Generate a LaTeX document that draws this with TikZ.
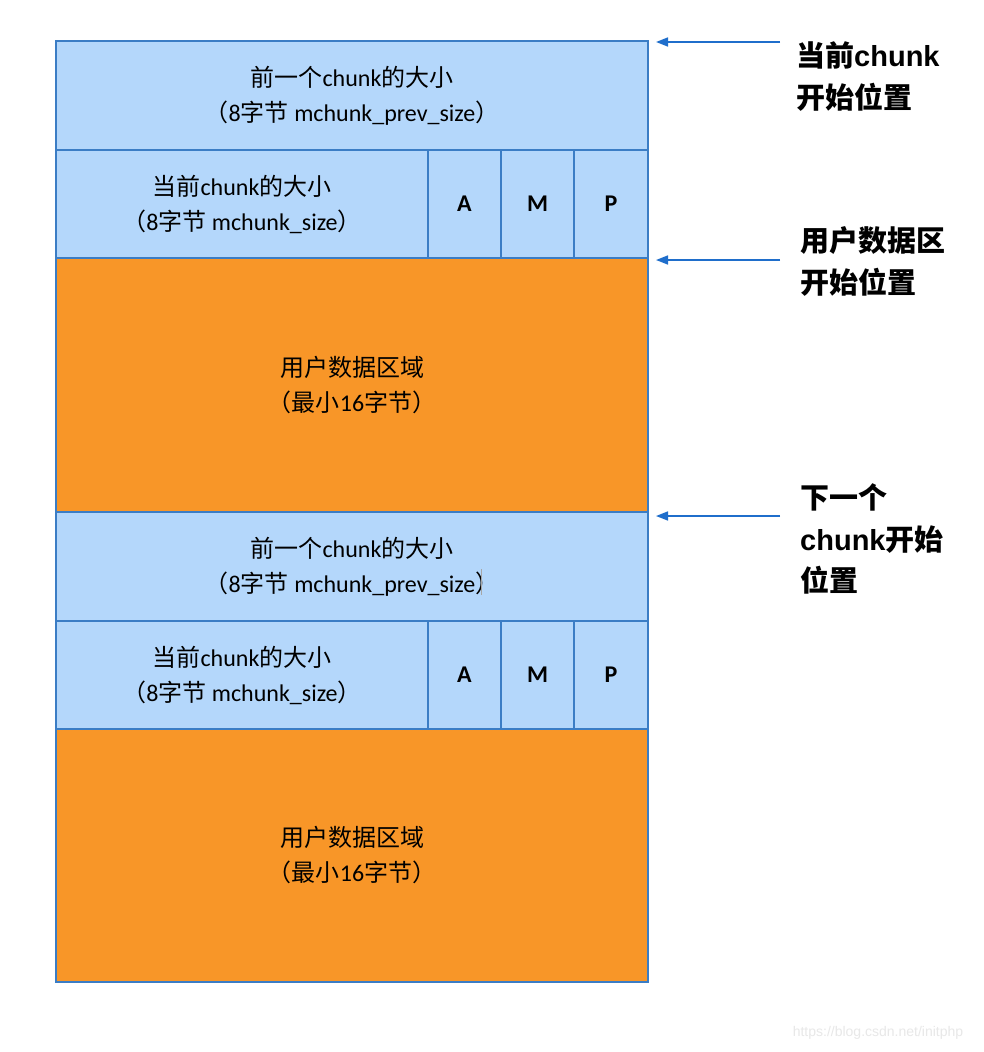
\documentclass[tikz,border=0pt]{standalone}
\usepackage{fontspec}
\setmainfont{Carlito}
\newfontfamily\cjk{Noto Sans CJK SC}
\newfontfamily\hb{Liberation Sans}
\usetikzlibrary{arrows.meta}
\definecolor{lblue}{HTML}{B4D7FB}
\definecolor{orng}{HTML}{F89628}
\definecolor{bord}{HTML}{3B7DC5}
\definecolor{arrc}{HTML}{1F6ECB}
\tikzset{
  cell/.style={draw=bord, line width=1.6pt, inner sep=0pt, outer sep=0pt, align=center,
    font=\fontsize{24}{35}\selectfont},
  hdr/.style={cell, fill=lblue},
  dat/.style={cell, fill=orng},
  flag/.style={hdr, font=\fontsize{24}{26}\selectfont\bfseries},
  ptr/.style={draw=arrc, line width=1.6pt, -{Triangle[length=12pt,width=9pt]}},
  lbl/.style={anchor=west, align=left, inner sep=0pt, font=\fontsize{29}{41.5}\selectfont\bfseries}
}
\newcommand{\cc}[1]{{\cjk #1}}
\newcommand{\cb}[1]{{\cjk\bfseries #1}}
\begin{document}
\begin{tikzpicture}[x=1pt,y=-1pt]
\useasboundingbox[fill=white] (0,0) rectangle (984,1052);
% first chunk
\node[hdr, minimum width=592pt, minimum height=109pt] (prev1) at (352,95.5)
  {\cc{前一个}chunk\cc{的大小}\\\cc{（}8\cc{字节} mchunk\_prev\_size\cc{）}};
\node[hdr, minimum width=372pt, minimum height=108pt] (size1) at (242,204)
  {\cc{当前}chunk\cc{的大小}\\\cc{（}8\cc{字节} mchunk\_size\cc{）}};
\node[flag, minimum width=73pt, minimum height=108pt] (A1) at (464.5,204) {A};
\node[flag, minimum width=73pt, minimum height=108pt] (M1) at (537.5,204) {M};
\node[flag, minimum width=74pt, minimum height=108pt] (P1) at (611,204) {P};
\node[dat, minimum width=592pt, minimum height=254pt] (data1) at (352,385)
  {\cc{用户数据区域}\\\cc{（最小}16\cc{字节）}};
% second chunk
\node[hdr, minimum width=592pt, minimum height=109pt] (prev2) at (352,566.5)
  {\cc{前一个}chunk\cc{的大小}\\\cc{（}8\cc{字节} mchunk\_prev\_size\cc{）}};
\node[hdr, minimum width=372pt, minimum height=108pt] (size2) at (242,675)
  {\cc{当前}chunk\cc{的大小}\\\cc{（}8\cc{字节} mchunk\_size\cc{）}};
\node[flag, minimum width=73pt, minimum height=108pt] (A2) at (464.5,675) {A};
\node[flag, minimum width=73pt, minimum height=108pt] (M2) at (537.5,675) {M};
\node[flag, minimum width=74pt, minimum height=108pt] (P2) at (611,675) {P};
\node[dat, minimum width=592pt, minimum height=253pt] (data2) at (352,855.5)
  {\cc{用户数据区域}\\\cc{（最小}16\cc{字节）}};
% text cursor artifact
\draw[gray!70, line width=1pt] (481,569) -- (481,595);
% pointers
\coordinate (s1) at (780,42);  \coordinate (t1) at (656,42);
\coordinate (s2) at (780,260); \coordinate (t2) at (656,260);
\coordinate (s3) at (780,516); \coordinate (t3) at (656,516);
\draw[ptr] (s1) -- (t1);
\draw[ptr] (s2) -- (t2);
\draw[ptr] (s3) -- (t3);
\node[lbl] (l1) at (796,76.5) {\cb{当前}{\hb chunk}\\\cb{开始位置}};
\node[lbl] (l2) at (800,261.5) {\cb{用户数据区}\\\cb{开始位置}};
\node[lbl] (l3) at (800,539) {\cb{下一个}\\{\hb chunk}\cb{开始}\\\cb{位置}};
% watermark
\node[font=\hb\fontsize{14}{16}\selectfont, text=black!9, inner sep=0pt] (wm) at (878,1033) {https://blog.csdn.net/initphp};
\end{tikzpicture}
\end{document}
